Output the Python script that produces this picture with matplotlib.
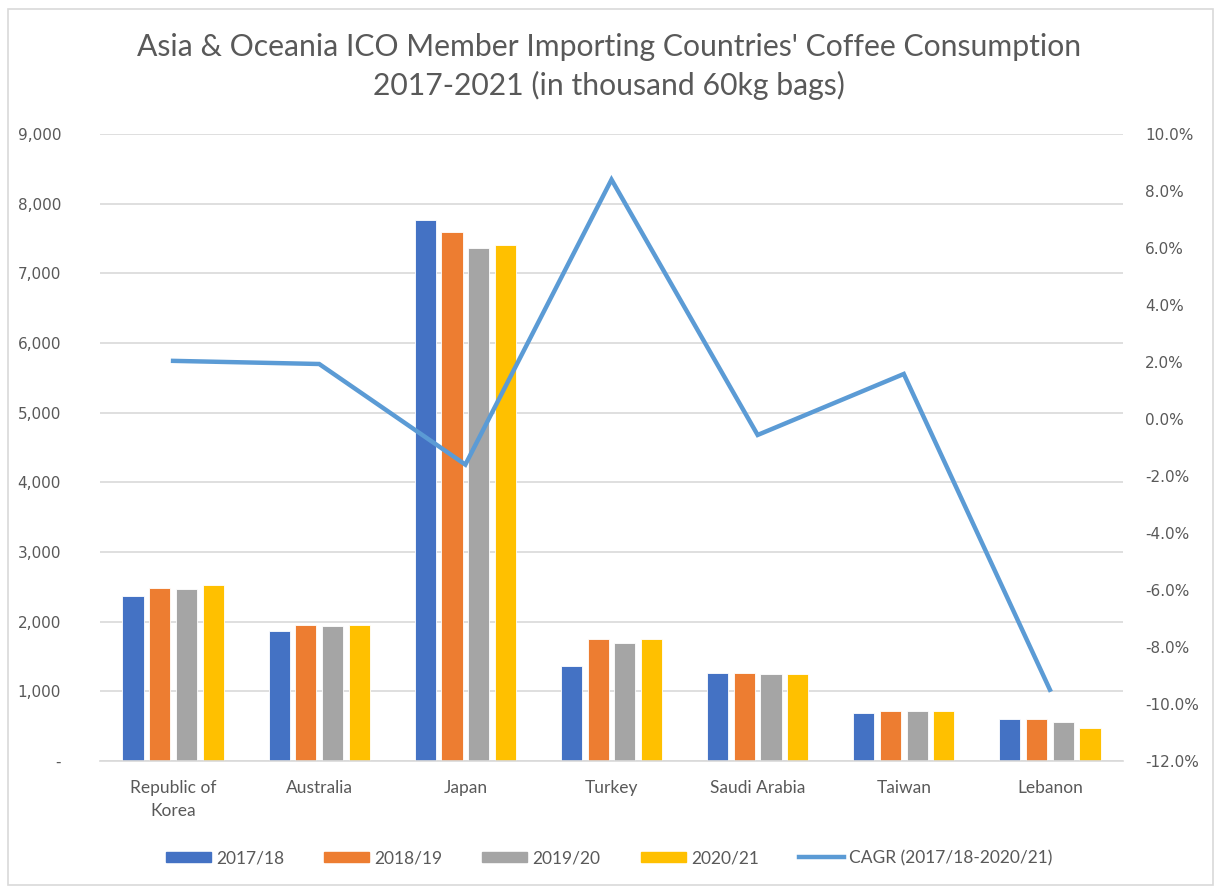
import matplotlib
matplotlib.use("Agg")
import matplotlib.pyplot as plt
import numpy as np
from matplotlib.patches import Rectangle
from matplotlib.lines import Line2D
from matplotlib.ticker import FuncFormatter, MultipleLocator

countries = ["Republic of\nKorea", "Australia", "Japan", "Turkey", "Saudi Arabia", "Taiwan", "Lebanon"]
series_names = ["2017/18", "2018/19", "2019/20", "2020/21"]
v_2017 = [2365, 1860, 7765, 1365, 1270, 690, 610]
v_2018 = [2490, 1958, 7590, 1745, 1270, 718, 610]
v_2019 = [2468, 1934, 7360, 1694, 1242, 718, 562]
v_2020 = [2520, 1958, 7410, 1745, 1242, 718, 468]
cagr = [2.04, 1.93, -1.6, 8.4, -0.56, 1.58, -9.5]  # percent
cagr_name = "CAGR (2017/18-2020/21)"

colors = ["#4472C4", "#ED7D31", "#A5A5A5", "#FFC000"]
line_color = "#5B9BD5"
txt = "#595959"

W, H = 1218, 890
fig = plt.figure(figsize=(W / 100, H / 100), dpi=100)
fig.patch.set_facecolor("white")
fig.patches.append(Rectangle((8 / W, 5 / H), 1205 / W, 876 / H, transform=fig.transFigure,
                             fill=False, edgecolor="#D9D9D9", lw=1.2))

ax = fig.add_axes([100 / W, 1 - 761 / H, 1023 / W, 627 / H])
x = np.arange(len(countries))
step = 0.183
width = 0.145
for i, vals in enumerate([v_2017, v_2018, v_2019, v_2020]):
    ax.bar(x + (i - 1.5) * step, vals, width, color=colors[i], edgecolor="white", linewidth=0.6,
           label=series_names[i], zorder=2)

ax.set_xlim(-0.5, len(countries) - 0.5)
ax.set_ylim(0, 9000)
ax.yaxis.set_major_locator(MultipleLocator(1000))
ax.yaxis.set_major_formatter(FuncFormatter(lambda v, p: "-" if v == 0 else f"{v:,.0f}"))
ax.grid(axis="y", color="#D9D9D9", linewidth=1.2, zorder=0)
ax.set_axisbelow(True)
for s in ["top", "right", "left"]:
    ax.spines[s].set_visible(False)
ax.spines["bottom"].set_color("#D9D9D9")
ax.spines["bottom"].set_linewidth(1.2)
ax.tick_params(axis="both", length=0, colors=txt)
ax.tick_params(axis="y", labelsize=11, pad=28)
ax.set_xticks(x)
ax.set_xticklabels(countries, fontsize=12.5, color=txt, family="Lato", linespacing=1.5)
ax.tick_params(axis="x", pad=14)
for lab in ax.get_yticklabels():
    lab.set_family("DejaVu Sans")

ax2 = ax.twinx()
ax2.plot(x, cagr, color=line_color, linewidth=3.2, solid_joinstyle="miter", zorder=3)
ax2.set_ylim(-12, 10)
ax2.yaxis.set_major_locator(MultipleLocator(2))
ax2.yaxis.set_major_formatter(FuncFormatter(lambda v, p: f"{v:.1f}%"))
for s in ["top", "right", "left", "bottom"]:
    ax2.spines[s].set_visible(False)
ax2.tick_params(axis="y", length=0, colors=txt, labelsize=11, pad=16)

fig.text(0.5, 1 - 47 / H, "Asia & Oceania ICO Member Importing Countries' Coffee Consumption",
         ha="center", va="center", fontsize=21.7, color=txt, family="Lato")
fig.text(0.5, 1 - 85 / H, "2017-2021 (in thousand 60kg bags)",
         ha="center", va="center", fontsize=21.7, color=txt, family="Lato")

handles = [Rectangle((0, 0), 1, 1, color=c) for c in colors]
handles.append(Line2D([0], [0], color=line_color, lw=3.2))
labels = series_names + [cagr_name]
leg = fig.legend(handles, labels, loc="center", bbox_to_anchor=(0.5, 1 - 858 / H), ncol=5,
                 frameon=False, handlelength=2.6, handleheight=0.55,
                 handletextpad=0.3, columnspacing=2.3, prop={"family": "Lato", "size": 12.5})
for t in leg.get_texts():
    t.set_color(txt)

fig.savefig("out.png", dpi=100, facecolor="white")
